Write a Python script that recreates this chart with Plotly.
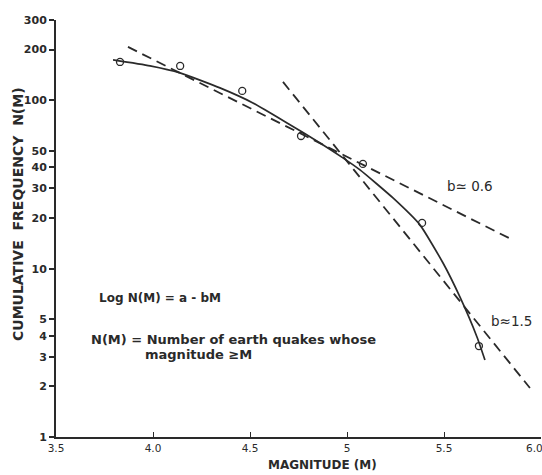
import plotly.graph_objects as go

# ---- data ----
obs_mag = [3.83, 4.14, 4.46, 4.763, 5.082, 5.387, 5.68]
obs_n = [169, 160, 113.7, 61.4, 41.9, 18.7, 3.47]

curve_mag = [3.794, 3.985, 4.139, 4.345, 4.515, 4.691, 4.861, 4.979, 5.067,
             5.237, 5.376, 5.495, 5.582, 5.670, 5.711]
curve_n = [173.8, 160.1, 145.5, 118.5, 96.5, 73.4, 55.8, 45.5, 38.6,
           26.3, 18.2, 10.8, 6.79, 3.93, 2.87]

fit06_mag = [3.871, 5.845]
fit06_n = [207.6, 15.0]

fit15_mag = [4.670, 5.943]
fit15_n = [128.6, 1.955]

x_ticks = [3.5, 4.0, 4.5, 5.0, 5.5, 6.0]
x_tick_labels = ["3.5", "4.0", "4.5", "5", "5.5", "6.0"]
y_ticks = [1, 2, 3, 4, 5, 10, 20, 30, 40, 50, 100, 200, 300]
y_tick_labels = ["1", "2", "3", "4", "5", "10", "20", "30", "40", "50", "100", "200", "300"]

INK = "#2a2a2a"
FONT = "DejaVu Sans"

W, H = 542, 475
L, R, T, B = 56, 1, 20, 38
PW, PH = W - L - R, H - T - B


def px(xp, yp):
    """window pixel -> paper coords"""
    return (xp - L) / PW, (H - B - yp) / PH


fig = go.Figure()
fig.add_trace(go.Scatter(x=curve_mag, y=curve_n, mode="lines",
                         line=dict(color=INK, width=1.7, shape="spline", smoothing=0.5),
                         hoverinfo="skip"))
fig.add_trace(go.Scatter(x=fit06_mag, y=fit06_n, mode="lines",
                         line=dict(color=INK, width=1.8, dash="10px,6px")))
fig.add_trace(go.Scatter(x=fit15_mag, y=fit15_n, mode="lines",
                         line=dict(color=INK, width=1.8, dash="10px,6px")))
fig.add_trace(go.Scatter(x=obs_mag, y=obs_n, mode="markers",
                         marker=dict(symbol="circle-open", size=7, color=INK, line=dict(width=1.3))))

annotations = []


def add_text(xp, yp, text, size=12, anchor="left", angle=0, bold=True):
    xx, yy = px(xp, yp)
    annotations.append(dict(x=xx, y=yy, xref="paper", yref="paper", text=text,
                            showarrow=False, xanchor=anchor, yanchor="middle",
                            textangle=angle,
                            font=dict(family=FONT, size=size, color=INK,
                                      weight="bold" if bold else "normal")))


add_text(97, 298, "Log N(M) = a - bM", size=12)
add_text(89, 339, "N(M) = Number of earth quakes whose", size=13)
add_text(143, 354, "magnitude \u2265M", size=13)
add_text(445, 186, "b\u2243 0.6", size=13.5, bold=False)
add_text(489, 321, "b\u22481.5", size=13.5, bold=False)
add_text(18, 214, "CUMULATIVE  FREQUENCY  N(M)", size=14, anchor="center", angle=-90)
add_text(322, 465, "MAGNITUDE (M)", size=12, anchor="center")

tick_text = x_tick_labels[:-1] + [x_tick_labels[-1] + "\u00a0" * 4]

fig.update_layout(
    width=W, height=H, autosize=False,
    margin=dict(l=L, r=R, t=T, b=B, autoexpand=False),
    paper_bgcolor="white", plot_bgcolor="white",
    showlegend=False,
    annotations=annotations,
    xaxis=dict(range=[3.5, 6.0], tickvals=x_ticks, ticktext=tick_text,
               showgrid=False, zeroline=False, showline=True, linecolor=INK, linewidth=2,
               ticks="inside", ticklen=5, tickcolor=INK, tickwidth=1.2,
               ticklabeloverflow="allow",
               tickfont=dict(family=FONT, size=10.5, color=INK)),
    yaxis=dict(type="log", range=[0, 2.4771], tickvals=y_ticks, ticktext=y_tick_labels,
               showgrid=False, zeroline=False, showline=True, linecolor=INK, linewidth=2,
               ticks="outside", ticklen=5, tickcolor=INK, tickwidth=1.5,
               tickfont=dict(family=FONT, size=11, color=INK, weight="bold")),
)

fig.write_html("out.html", config={"displayModeBar": False},
               post_script="document.body.style.margin='0';document.body.style.overflow='hidden';")
